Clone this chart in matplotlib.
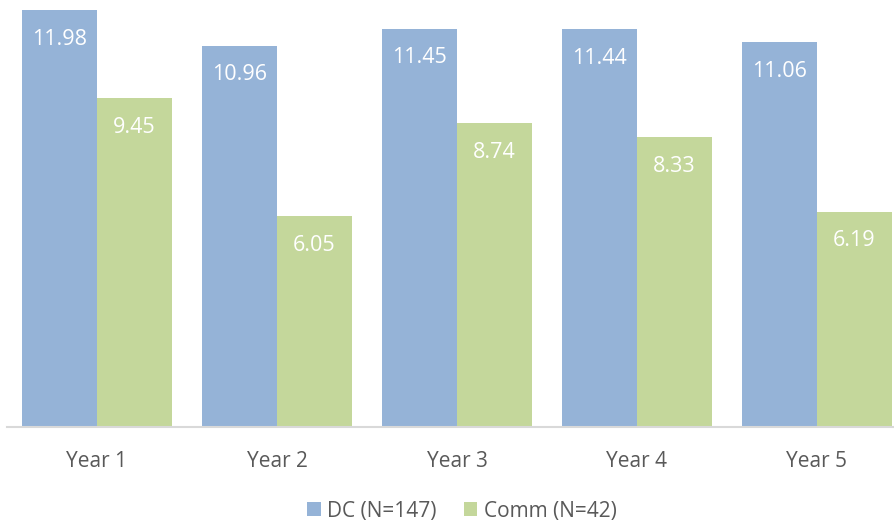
import matplotlib.pyplot as plt
import numpy as np

years = ["Year 1", "Year 2", "Year 3", "Year 4", "Year 5"]
dc_values = [11.98, 10.96, 11.45, 11.44, 11.06]
comm_values = [9.45, 6.05, 8.74, 8.33, 6.19]
series_names = ["DC (N=147)", "Comm (N=42)"]

plt.rcParams["font.family"] = ["Open Sans", "DejaVu Sans"]

fig = plt.figure(figsize=(8.95, 5.25), dpi=100)
ax = fig.add_axes([7 / 895, 98 / 525, 900 / 895, 417.6 / 525])

x = np.arange(len(years))
w = 75 / 180
bars_dc = ax.bar(x - w / 2, dc_values, w, color="#95B3D7", label=series_names[0])
bars_comm = ax.bar(x + w / 2, comm_values, w, color="#C4D79B", label=series_names[1])

for bars in (bars_dc, bars_comm):
    for b in bars:
        ax.annotate(f"{b.get_height():.2f}", (b.get_x() + b.get_width() / 2, b.get_height()),
                    xytext=(0, -21), textcoords="offset points",
                    ha="center", va="center", color="white", fontsize=15.5)

ax.set_xlim(-0.5, 4.5)
ax.set_ylim(0, 12)
ax.set_yticks([])
ax.set_xticks(x)
ax.set_xticklabels(years, fontsize=15, color="#595959")
ax.tick_params(axis="x", length=0, pad=17)
for side in ("top", "right", "left"):
    ax.spines[side].set_visible(False)
ax.spines["bottom"].set_color("#D9D9D9")
ax.spines["bottom"].set_linewidth(1.5)

fig.legend(loc="center", bbox_to_anchor=(462 / 895, 1 - 511 / 525), ncol=2, frameon=False,
           fontsize=15, labelcolor="#595959", handlelength=0.65, handleheight=0.65,
           handletextpad=0.3, columnspacing=1.3)

fig.savefig("out.png", dpi=100)
